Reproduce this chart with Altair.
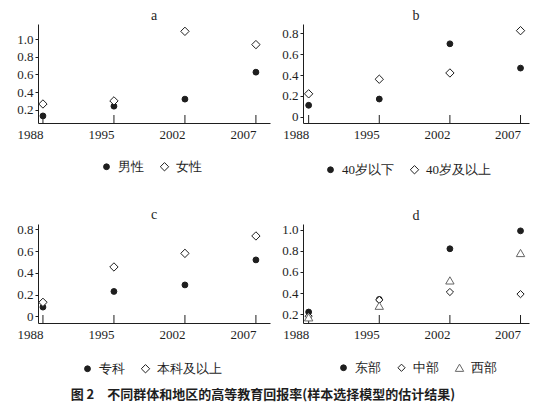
import altair as alt
import pandas as pd

years = ["1988", "1995", "2002", "2007"]

a_names = ["男性", "女性"]
a_male = [0.13, 0.24, 0.32, 0.625]
a_female = [0.265, 0.30, 1.087, 0.937]

b_names = ["40岁以下", "40岁及以上"]
b_under40 = [0.11, 0.17, 0.70, 0.467]
b_over40 = [0.22, 0.36, 0.42, 0.826]

c_names = ["专科", "本科及以上"]
c_zhuanke = [0.086, 0.23, 0.29, 0.52]
c_benke = [0.13, 0.455, 0.58, 0.74]

d_names = ["东部", "中部", "西部"]
d_east = [0.22, 0.34, 0.82, 0.99]
d_central = [0.18, 0.335, 0.41, 0.39]
d_west = [0.17, 0.28, 0.52, 0.78]

caption = "图 2\u3000不同群体和地区的高等教育回报率(样本选择模型的估计结果)"

SERIF = "Liberation Serif"
INK = "#1e1e1e"
H = 99


def panel(title, names, series, ydomain, yvalues, width, align, pad, lx, ly):
    rows = []
    for name, vals in zip(names, series):
        for yr, v in zip(years, vals):
            rows.append({"year": yr, "value": v, "group": name})
    df = pd.DataFrame(rows)
    n = len(names)
    shapes = ["circle", "diamond", "triangle-up"][:n]
    fills = [INK, "white", "white"][:n]
    strokes = [INK, INK, "#666666"][:n]
    sizes = [34, 70, 40][:n]

    xenc = alt.X(
        "year:O",
        sort=years,
        scale=alt.Scale(type="point", padding=pad, align=align),
        axis=alt.Axis(title=None, labelAngle=0, ticks=False, labelPadding=11,
                      labelFont=SERIF, labelFontSize=13, labelColor=INK,
                      domainColor=INK),
    )
    yenc = alt.Y(
        "value:Q",
        scale=alt.Scale(domain=ydomain, nice=False, zero=False),
        axis=alt.Axis(title=None, values=yvalues, tickSize=3, tickColor=INK,
                      grid=False, labelFont=SERIF, labelFontSize=13,
                      labelColor=INK, domainColor=INK, labelPadding=2,
                      labelExpr="datum.value == 0 ? '0' : format(datum.value, '.1f')"),
    )
    legend = alt.Legend(title=None, orient="none", legendX=lx, legendY=ly,
                        direction="horizontal", labelFont=SERIF, labelFontSize=13,
                        labelColor=INK, columnPadding=14,
                        labelOffset=5, symbolStrokeWidth=1)
    pts = alt.Chart(df).mark_point(filled=True, opacity=1, strokeWidth=1).encode(
        x=xenc,
        y=yenc,
        shape=alt.Shape("group:N", sort=names, scale=alt.Scale(domain=names, range=shapes), legend=legend),
        fill=alt.Fill("group:N", sort=names, scale=alt.Scale(domain=names, range=fills), legend=legend),
        stroke=alt.Stroke("group:N", sort=names, scale=alt.Scale(domain=names, range=strokes), legend=legend),
        size=alt.Size("group:N", sort=names, scale=alt.Scale(domain=names, range=sizes), legend=legend),
    )
    ticks = alt.Chart(pd.DataFrame({"year": years})).mark_rule(color=INK, strokeWidth=1).encode(
        x=alt.X("year:O", sort=years),
        y=alt.value(H),
        y2=alt.value(H - 8),
    )
    return alt.layer(ticks, pts).properties(
        width=width, height=H,
        title=alt.TitleParams(title, font=SERIF, fontSize=14, fontWeight="normal",
                              color=INK, offset=1, anchor="middle"),
    )


pa = panel("a", a_names, [a_male, a_female], [0.05, 1.17], [0.2, 0.4, 0.6, 0.8, 1.0],
           232, 0.26, 0.134, 62, 136)
pb = panel("b", b_names, [b_under40, b_over40], [-0.06, 0.89], [0, 0.2, 0.4, 0.6, 0.8],
           226, 0.4, 0.10, 21, 139)
pc = panel("c", c_names, [c_zhuanke, c_benke], [-0.06, 0.85], [0, 0.2, 0.4, 0.6, 0.8],
           232, 0.26, 0.134, 43, 138)
pd_ = panel("d", d_names, [d_east, d_central, d_west], [0.116, 1.055], [0.2, 0.4, 0.6, 0.8, 1.0],
            226, 0.4, 0.10, 34, 137)

res = dict(shape="independent", fill="independent", stroke="independent", size="independent")
row1 = alt.hconcat(pa, pb, spacing=11).resolve_scale(**res)
row2 = alt.hconcat(pc, pd_, spacing=11).resolve_scale(**res)

chart = alt.vconcat(row1, row2, spacing=31).properties(
    title=alt.TitleParams(caption, orient="bottom", anchor="middle", font="Noto Sans CJK SC",
                          fontSize=13, fontWeight="bold", color=INK, offset=13, dx=-10),
    padding={"left": 8, "top": 1, "right": 5, "bottom": 0},
).configure(background="white", font=SERIF).configure_view(stroke=None).configure_axis(
    labelFont=SERIF
).configure_legend(labelFont=SERIF)

chart.save("out.html", embed_options={"renderer": "svg", "actions": False})
